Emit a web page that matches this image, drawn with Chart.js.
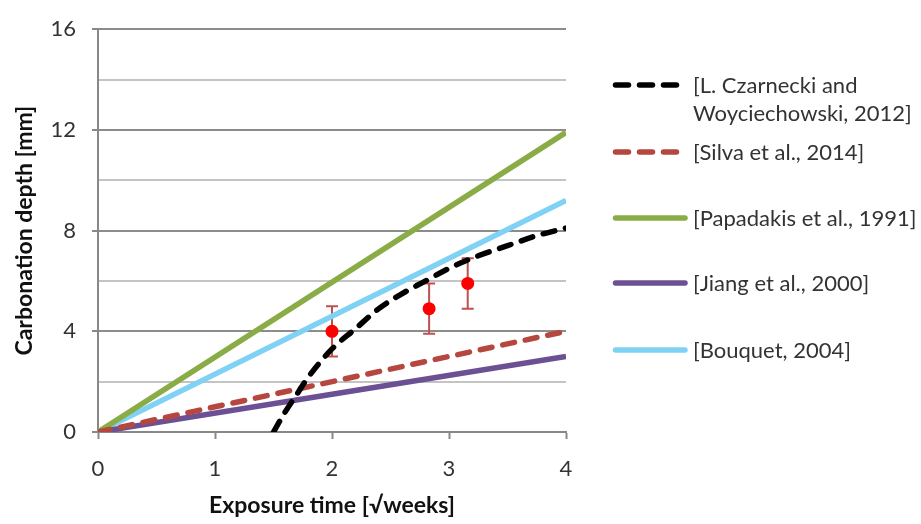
<!DOCTYPE html>
<html>
<head>
<meta charset="utf-8">
<script src="https://cdn.jsdelivr.net/npm/chart.js@4"></script>
<style>
    body { margin: 0; background: #ffffff; }
    #wrap { position: relative; width: 921px; height: 524px; }
    #legend { position: absolute; left: 0; top: 0; width: 921px; height: 524px; pointer-events: none; }
    .lg-item { position: absolute; left: 610px; }
    .lg-item svg { position: absolute; left: 0; top: 0; }
    .lg-text { position: absolute; left: 83px; font-family: Lato, sans-serif; font-size: 22px; line-height: 28px; color: #333333; white-space: nowrap; }
</style>
</head>
<body>
<div id="wrap">
    <canvas id="chart" width="921" height="524"></canvas>
    <div id="legend"></div>
</div>
<script>
// series labels (legend order)
const seriesLabels = [
    ["[L. Czarnecki and", "Woyciechowski, 2012]"],
    ["[Silva et al., 2014]"],
    ["[Papadakis et al., 1991]"],
    ["[Jiang et al., 2000]"],
    ["[Bouquet, 2004]"]
];

// model curves, x in sqrt(weeks), y in mm
const czarneckiX = [1.5, 1.6, 1.7, 1.8, 2.0, 2.2, 2.4, 2.6, 2.8, 3.0, 3.25, 3.5, 3.75, 4.0];
const czarneckiY = [0, 0.8, 1.5, 2.2, 3.3, 4.1, 4.9, 5.5, 6.0, 6.5, 7.0, 7.4, 7.8, 8.1];
const linearX = [0, 4];
const silvaY = [0, 4.0];
const papadakisY = [0, 11.9];
const jiangY = [0, 3.0];
const bouquetY = [0, 9.2];

// measured points with error bars
const testX = [2.0, 2.83, 3.16];
const testY = [4.0, 4.9, 5.9];
const testErr = [1.0, 1.0, 1.0];

const xTicks = [0, 1, 2, 3, 4];
const yTicks = [0, 4, 8, 12, 16];

const FONT = "Lato, 'Open Sans', sans-serif";

function toPoints(xs, ys) {
    return xs.map((x, i) => ({ x: x, y: ys[i] }));
}

const seriesStyles = [
    { color: "#000000", dash: [12, 11] },
    { color: "#b5473f", dash: [12, 11] },
    { color: "#8aac46", dash: [] },
    { color: "#6c5094", dash: [] },
    { color: "#80d2f4", dash: [] }
];

const seriesData = [
    toPoints(czarneckiX, czarneckiY),
    toPoints(linearX, silvaY),
    toPoints(linearX, papadakisY),
    toPoints(linearX, jiangY),
    toPoints(linearX, bouquetY)
];

const lineSets = seriesData.map((pts, i) => ({
    label: seriesLabels[i].join(" "),
    data: pts,
    showLine: true,
    borderColor: seriesStyles[i].color,
    borderWidth: 5.5,
    borderDash: seriesStyles[i].dash,
    borderCapStyle: seriesStyles[i].dash.length ? "round" : "butt",
    pointRadius: 0,
    cubicInterpolationMode: "monotone",
    fill: false
}));

const errorBars = {
    id: "errorBars",
    beforeDatasetsDraw(chart) {
        const ctx = chart.ctx;
        const xs = chart.scales.x, ys = chart.scales.y;
        ctx.save();
        ctx.strokeStyle = "#c0504d";
        ctx.lineWidth = 2;
        testX.forEach((x, i) => {
            const px = xs.getPixelForValue(x);
            const top = ys.getPixelForValue(testY[i] + testErr[i]);
            const bot = ys.getPixelForValue(testY[i] - testErr[i]);
            ctx.beginPath();
            ctx.moveTo(px, top); ctx.lineTo(px, bot);
            ctx.moveTo(px - 6, top); ctx.lineTo(px + 6, top);
            ctx.moveTo(px - 6, bot); ctx.lineTo(px + 6, bot);
            ctx.stroke();
        });
        ctx.restore();
    }
};

new Chart(document.getElementById("chart"), {
    type: "scatter",
    data: {
        datasets: lineSets.concat([{
            label: "Test results",
            data: toPoints(testX, testY),
            pointRadius: 6.5,
            pointBackgroundColor: "#ff0000",
            pointBorderWidth: 0,
            showLine: false
        }])
    },
    options: {
        responsive: false,
        animation: false,
        devicePixelRatio: 1,
        layout: { padding: { left: 0, top: 18, right: 355, bottom: 0 } },
        plugins: {
            legend: { display: false },
            tooltip: { enabled: false }
        },
        scales: {
            x: {
                type: "linear",
                min: 0,
                max: 4,
                afterBuildTicks: s => { s.ticks = xTicks.map(v => ({ value: v })); },
                afterFit: s => { s.height = 92; },
                ticks: {
                    color: "#333333",
                    padding: 17,
                    font: { family: FONT, size: 22 }
                },
                grid: {
                    drawOnChartArea: false,
                    drawTicks: true,
                    tickLength: 7,
                    tickColor: "#888888",
                    tickWidth: 2
                },
                border: { color: "#888888", width: 2 },
                title: {
                    display: true,
                    text: "Exposure time [√weeks]",
                    color: "#111111",
                    font: { family: FONT, size: 23, weight: "bold" },
                    padding: { top: 0, bottom: 5 }
                }
            },
            y: {
                min: 0,
                max: 16,
                afterFit: s => { s.width = 98; },
                ticks: {
                    stepSize: 2,
                    color: "#333333",
                    padding: 16,
                    font: { family: FONT, size: 22 },
                    callback: v => (yTicks.includes(v) ? String(v) : "")
                },
                grid: {
                    color: c => (yTicks.includes(c.tick.value) ? "#8c8c8c" : "#c4c4c4"),
                    lineWidth: 2,
                    tickLength: 6,
                    tickColor: c => (yTicks.includes(c.tick.value) ? "#888888" : "rgba(0,0,0,0)"),
                    tickWidth: 2
                },
                border: { color: "#888888", width: 2 },
                title: {
                    display: true,
                    text: "Carbonation depth [mm]",
                    color: "#111111",
                    font: { family: FONT, size: 23, weight: "bold" },
                    padding: { top: 11, bottom: 0 }
                }
            }
        }
    },
    plugins: [errorBars]
});

// legend drawn as html beside the plot
const legendRows = [85, 152, 218, 283, 350];
const legendBox = document.getElementById("legend");
seriesLabels.forEach((lines, i) => {
    const item = document.createElement("div");
    item.className = "lg-item";
    item.style.top = (legendRows[i] - 14) + "px";
    const st = seriesStyles[i];
    const dash = st.dash.length ? 'stroke-dasharray="13 11"' : "";
    const x2 = st.dash.length ? 71 : 75;
    item.innerHTML =
        '<svg width="80" height="28"><line x1="5.5" y1="14" x2="' + x2 + '" y2="14" stroke="' + st.color +
        '" stroke-width="5.5" stroke-linecap="round" ' + dash + '/></svg>' +
        '<div class="lg-text">' + lines.join("<br>") + "</div>";
    legendBox.appendChild(item);
});
</script>
</body>
</html>
